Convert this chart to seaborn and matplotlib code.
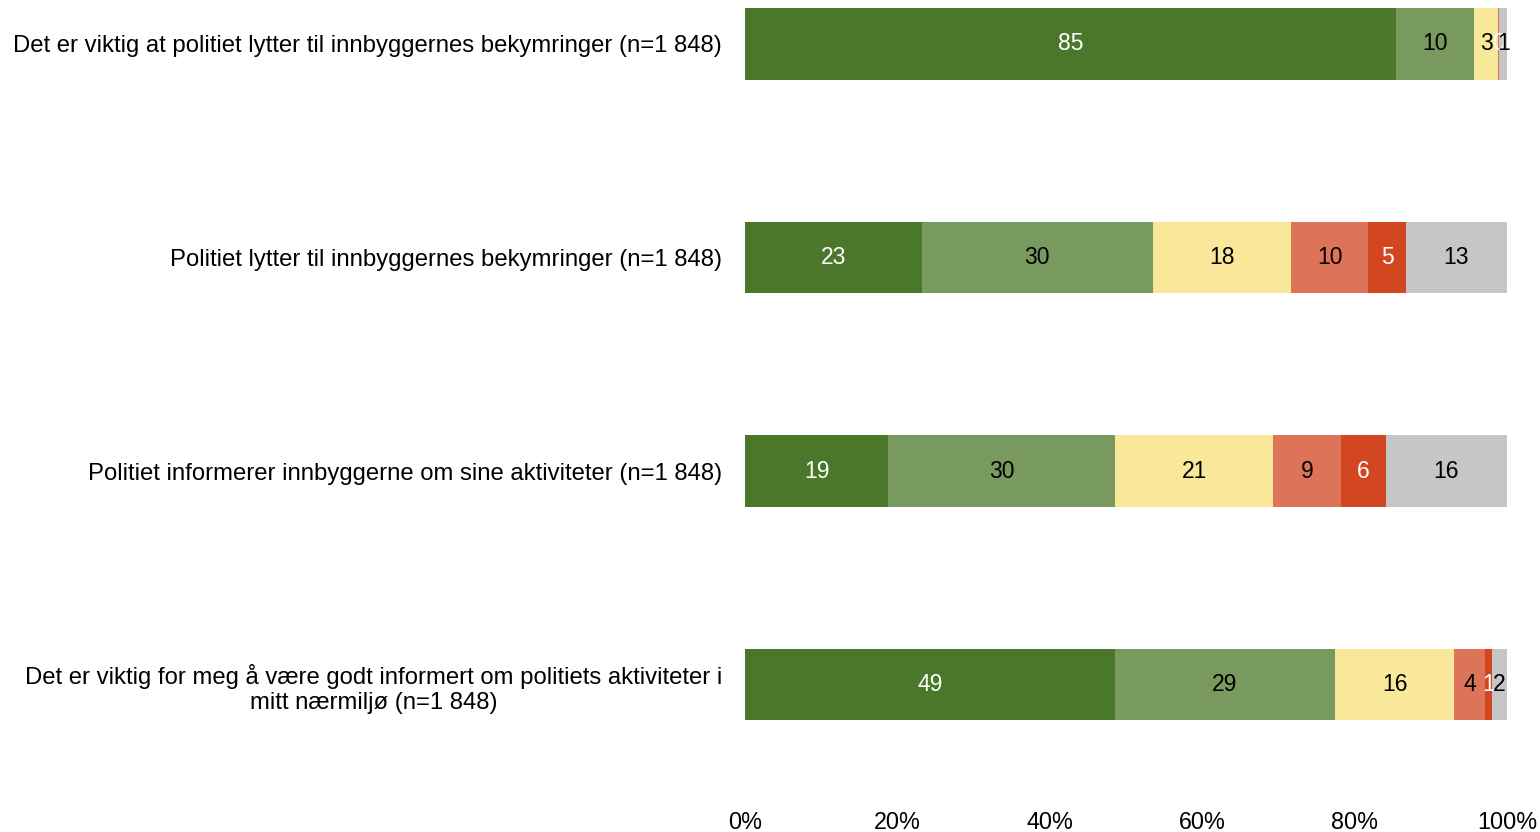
import matplotlib
matplotlib.use("Agg")
import matplotlib.pyplot as plt
import seaborn as sns
import numpy as np
import pandas as pd

# statements, top to bottom
statements = [
    "Det er viktig at politiet lytter til innbyggernes bekymringer (n=1 848)",
    "Politiet lytter til innbyggernes bekymringer (n=1 848)",
    "Politiet informerer innbyggerne om sine aktiviteter (n=1 848)",
    "Det er viktig for meg å være godt informert om politiets aktiviteter i\nmitt nærmiljø (n=1 848)",
]

# percent per answer category
helt_enig = [85.4, 23.2, 18.8, 48.6]
delvis_enig = [10.3, 30.3, 29.8, 28.8]
verken = [3.1, 18.2, 20.7, 15.7]
delvis_uenig = [0.1, 10.1, 8.9, 4.0]
helt_uenig = [0.1, 4.9, 5.9, 0.9]
vet_ikke = [1.0, 13.3, 15.9, 2.0]

colors = ["#4a7729", "#789a5e", "#fae89a", "#dd7358", "#d24720", "#c5c6c8"]
label_colors = ["white", "black", "black", "black", "white", "black"]
xticks = [0, 20, 40, 60, 80, 100]

series = [helt_enig, delvis_enig, verken, delvis_uenig, helt_uenig, vet_ikke]
vals = np.array(series)
cum = np.cumsum(vals, axis=0)

sns.set_style("white")
plt.rcParams["font.family"] = ["Liberation Sans", "DejaVu Sans"]
plt.rcParams["text.color"] = "black"
plt.rcParams["xtick.color"] = "black"
plt.rcParams["ytick.color"] = "black"

fig = plt.figure(figsize=(15.4, 8.32), dpi=100)
ax = fig.add_axes([745 / 1540, 27 / 832, 762 / 1540, 805 / 832])

# stacked bars: draw cumulative totals, widest first
for k in range(len(series) - 1, -1, -1):
    df = pd.DataFrame({"statement": statements, "value": cum[k]})
    sns.barplot(data=df, x="value", y="statement", orient="h", color=colors[k],
                saturation=1, width=0.333, ax=ax, order=statements, linewidth=0)

for i in range(len(statements)):
    for k in range(len(series)):
        # the hidden zero label under the dark red one is skipped
        if k == 3 and vals[k, i] < 0.5:
            continue
        mid = cum[k, i] - vals[k, i] / 2
        ax.text(mid, i, f"{round(vals[k, i])}", ha="center", va="center",
                color=label_colors[k], fontsize=16.5)

ax.set_xlim(0, 100)
ax.set_ylim(3.564, -0.206)
ax.set_xticks(xticks)
ax.set_xticklabels([f"{t}%" for t in xticks], fontsize=16.8)
ax.set_xlabel("")
ax.set_ylabel("")
ax.tick_params(axis="y", length=0, pad=16.5, labelsize=17.2)
ax.tick_params(axis="x", length=0, pad=4)
for lbl in ax.get_yticklabels():
    lbl.set_multialignment("center")
sns.despine(ax=ax, left=True, bottom=True)

fig.savefig("out.png", dpi=100)
